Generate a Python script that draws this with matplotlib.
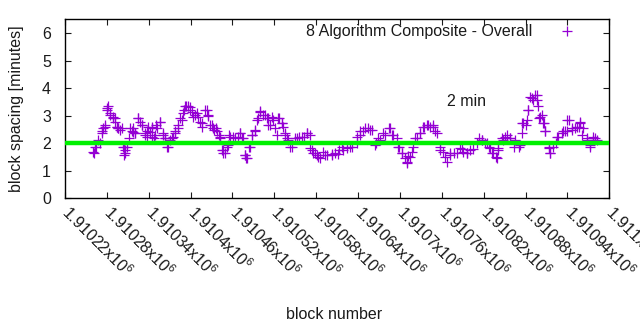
import matplotlib
matplotlib.use("Agg")
import matplotlib.pyplot as plt
from matplotlib.ticker import FixedLocator

plt.rcParams['font.family'] = ['Liberation Sans', 'DejaVu Sans']
plt.rcParams['mathtext.fontset'] = 'custom'
plt.rcParams['mathtext.rm'] = 'Liberation Sans'
plt.rcParams['mathtext.it'] = 'Liberation Sans'

# block numbers and block spacing (minutes) (first pass)
blocks = [
    1910260, 1910264, 1910270, 1910273, 1910277, 1910280, 1910285, 1910289, 1910292, 1910295,
    1910296, 1910302, 1910303, 1910306, 1910309, 1910313, 1910318, 1910320, 1910325, 1910330,
    1910335, 1910338, 1910342, 1910345, 1910349, 1910352, 1910356, 1910361, 1910363, 1910366,
    1910371, 1910375, 1910378, 1910382, 1910388, 1910389, 1910392, 1910396, 1910399, 1910402,
    1910406, 1910411, 1910416, 1910421, 1910425, 1910428, 1910432, 1910438, 1910442, 1910445,
    1910447, 1910452, 1910455, 1910461, 1910468, 1910471, 1910475, 1910478, 1910481, 1910485,
    1910488, 1910492, 1910497, 1910500, 1910507, 1910511, 1910514, 1910518, 1910525, 1910531,
    1910535, 1910540, 1910545, 1910553, 1910560, 1910567, 1910571, 1910574, 1910578, 1910583,
    1910593, 1910603, 1910611, 1910619, 1910629, 1910639, 1910643, 1910647, 1910654, 1910660,
    1910665, 1910672, 1910679, 1910686, 1910690, 1910697, 1910703, 1910710, 1910715, 1910719,
    1910725, 1910729, 1910733, 1910740, 1910748, 1910753, 1910758, 1910765, 1910772, 1910782,
    1910789, 1910796, 1910804, 1910811, 1910818, 1910822, 1910827, 1910832, 1910837, 1910841,
    1910847, 1910851, 1910858, 1910865, 1910872, 1910875, 1910880, 1910884, 1910887, 1910891,
    1910897, 1910898, 1910901, 1910905, 1910908, 1910913, 1910915, 1910920, 1910925, 1910933,
    1910940, 1910940, 1910947, 1910954, 1910958, 1910963, 1910968, 1910973, 1910977, 1910983,
]
spacing = [
    1.68, 1.86, 2.00, 2.35, 2.60, 3.27, 3.10, 2.95, 2.90, 2.60,
    2.55, 2.55, 1.86, 1.63, 1.86, 2.55, 2.40, 2.35, 2.90, 2.65,
    2.35, 2.23, 2.40, 2.60, 2.30, 2.55, 2.78, 2.35, 2.17, 1.86,
    2.10, 2.23, 2.35, 2.55, 2.85, 3.10, 3.33, 3.33, 3.30, 3.13,
    3.02, 2.95, 2.73, 3.20, 3.00, 2.65, 2.55, 2.42, 2.23, 1.75,
    1.63, 1.86, 2.30, 2.23, 2.23, 2.35, 2.17, 1.57, 1.45, 1.86,
    2.30, 2.48, 2.90, 3.15, 3.02, 2.90, 2.65, 2.85, 2.90, 2.73,
    2.35, 2.10, 1.86, 2.17, 2.23, 2.35, 2.30, 1.75, 1.63, 1.50,
    1.55, 1.60, 1.60, 1.75, 1.86, 2.00, 2.30, 2.42, 2.55, 2.48,
    2.00, 2.10, 2.30, 2.55, 2.30, 1.86, 1.63, 1.31, 1.50, 1.86,
    2.17, 2.35, 2.60, 2.65, 2.60, 2.35, 1.75, 1.50, 1.63, 1.63,
    1.80, 1.65, 1.80, 2.00, 2.10, 2.00, 1.86, 1.63, 1.50, 1.75,
    2.10, 2.23, 2.17, 2.10, 1.93, 2.73, 2.65, 3.20, 3.68, 3.57,
    3.75, 3.33, 2.95, 2.73, 2.42, 1.86, 1.65, 1.86, 2.23, 2.42,
    2.42, 2.85, 2.55, 2.60, 2.73, 2.55, 2.10, 1.93, 2.23, 2.10,
]
# second pass of readings from the picture
blocks_b = [
    1910261, 1910263, 1910268, 1910273, 1910274, 1910277, 1910280, 1910282, 1910285, 1910289,
    1910292, 1910294, 1910296, 1910299, 1910304, 1910306, 1910305, 1910311, 1910316, 1910318,
    1910320, 1910325, 1910328, 1910330, 1910335, 1910337, 1910339,
    1910344, 1910344, 1910347, 1910351, 1910356, 1910361, 1910363, 1910368, 1910373, 1910378,
    1910382, 1910385, 1910390, 1910394, 1910399, 1910404, 1910409, 1910414, 1910416, 1910423,
    1910425, 1910430, 1910433,
    1910437, 1910440, 1910442, 1910447, 1910449, 1910454, 1910457, 1910464, 1910471, 1910473,
    1910478, 1910480, 1910483, 1910488, 1910492, 1910495, 1910500, 1910504, 1910509, 1910511,
    1910516, 1910521, 1910524, 1910526,
    1910531, 1910533, 1910535, 1910538, 1910543, 1910550, 1910555, 1910562, 1910567, 1910571,
    1910576, 1910581, 1910586, 1910590, 1910595, 1910602, 1910607, 1910612, 1910617,
    1910624, 1910631, 1910638, 1910643, 1910650, 1910657, 1910664, 1910669, 1910676, 1910684,
    1910688, 1910696, 1910698, 1910703, 1910707, 1910710, 1910712,
    1910717, 1910722, 1910729, 1910734, 1910739, 1910743, 1910748, 1910750, 1910758, 1910762,
    1910767, 1910772, 1910777, 1910786, 1910791, 1910796, 1910801,
    1910813, 1910817, 1910825, 1910829, 1910834, 1910839, 1910841, 1910846, 1910853, 1910858,
    1910863, 1910870, 1910875, 1910877, 1910882, 1910884, 1910889, 1910894, 1910896, 1910899,
    1910903, 1910906, 1910908, 1910913, 1910915, 1910923, 1910927, 1910932, 1910937, 1910942,
    1910946, 1910951, 1910956, 1910958, 1910961, 1910968, 1910973, 1910977, 1910980,
]
spacing_b = [
    1.63, 1.87, 2.10, 2.42, 2.55, 2.66, 3.20, 3.33, 3.02, 2.91,
    2.78, 2.60, 2.54, 2.48, 1.87, 1.75, 1.57, 2.17, 2.42, 2.54,
    2.36, 2.90, 2.78, 2.66, 2.30, 2.42, 2.60,
    2.54, 2.23, 2.17, 2.66, 2.78, 2.30, 2.17, 1.87, 2.17, 2.42,
    2.66, 2.90, 3.20, 3.33, 3.20, 2.96, 3.08, 2.78, 2.60, 3.20,
    3.02, 2.66, 2.48,
    2.54, 2.30, 2.17, 1.75, 1.63, 1.93, 2.23, 2.17, 2.36, 2.17,
    1.57, 1.45, 1.87, 2.30, 2.42, 2.84, 3.14, 3.02, 2.90, 2.66,
    2.96, 2.54, 2.30, 2.90,
    2.72, 2.60, 2.30, 2.17, 1.87, 2.17, 2.23, 2.23, 2.36, 1.81,
    1.63, 1.57, 1.45, 1.69, 1.57, 1.57, 1.63, 1.75, 1.87,
    1.81, 1.87, 2.23, 2.42, 2.54, 2.48, 1.93, 2.17, 2.36, 2.54,
    2.30, 2.17, 1.87, 1.63, 1.45, 1.26, 1.51,
    1.69, 2.17, 2.36, 2.60, 2.66, 2.60, 2.66, 2.42, 1.87, 1.69,
    1.32, 1.57, 1.63, 1.81, 1.69, 1.63, 1.75,
    2.17, 2.10, 1.99, 1.81, 1.63, 1.45, 1.81, 2.17, 2.30, 2.17,
    1.87, 1.87, 2.36, 2.72, 2.84, 3.20, 3.63, 3.75, 3.57, 2.90,
    3.02, 2.72, 2.42, 1.81, 1.63, 1.99, 2.23, 2.36, 2.42, 2.84,
    2.48, 2.54, 2.60, 2.78, 2.30, 2.17, 1.87, 2.10, 2.17,
]
target_minutes = 2
xtick_values = [1910220, 1910280, 1910340, 1910400, 1910460, 1910520, 1910580,
                1910640, 1910700, 1910760, 1910820, 1910880, 1910940, 1911000]
xtick_labels = ["1.91022", "1.91028", "1.91034", "1.9104", "1.91046", "1.91052", "1.91058",
                "1.91064", "1.9107", "1.91076", "1.91082", "1.91088", "1.91094", "1.911"]
yticks = [0, 1, 2, 3, 4, 5, 6]

FS = 11.5
fig = plt.figure(figsize=(6.4, 3.3), dpi=100)
ax = fig.add_axes([65/640, 1 - 198/330, (609.3 - 65)/640, (198 - 19.3)/330])

purple = '#9400d3'
ax.plot(blocks + blocks_b, spacing + spacing_b, linestyle='none', marker='+', ms=6.5,
        mew=0.9, color=purple, label='8 Algorithm Composite - Overall', zorder=2)
ax.axhline(target_minutes, color='#00f000', lw=3.2, zorder=3)
ax.text(1910768, 3.5, '2 min', fontsize=FS, ha='left', va='center', color='#1a1a1a')

ax.set_xlim(1910220, 1911000)
ax.set_ylim(0, 6.5)
ax.xaxis.set_major_locator(FixedLocator(xtick_values))
ax.set_xticklabels([s + r"x10$^{6}$" for s in xtick_labels])
ax.set_yticks(yticks)
ax.tick_params(direction='in', length=4, width=0.8, top=True, right=True,
               labelsize=FS, colors='#1a1a1a')
ax.tick_params(axis='y', pad=10)
ax.tick_params(axis='x', pad=8)
for lab in ax.get_xticklabels():
    lab.set_rotation(-45)
    lab.set_ha('left')
    lab.set_va('center')
    lab.set_rotation_mode('anchor')
for s in ax.spines.values():
    s.set_linewidth(1.0)

ax.set_ylabel('block spacing [minutes]', fontsize=FS, color='#1a1a1a')
ax.yaxis.set_label_coords(-0.075, 0.5)
ax.set_xlabel('block number', fontsize=FS, color='#1a1a1a')
ax.xaxis.set_label_coords(0.495, -0.61)
ax.xaxis.label.set_va('top')

leg = ax.legend(loc='center right', bbox_to_anchor=(0.9496, 0.929), frameon=False,
                markerfirst=False, fontsize=FS, handlelength=1.9, handletextpad=1.2,
                borderaxespad=0, borderpad=0)
for t in leg.get_texts():
    t.set_color('#1a1a1a')

fig.savefig('out.png', dpi=100)
